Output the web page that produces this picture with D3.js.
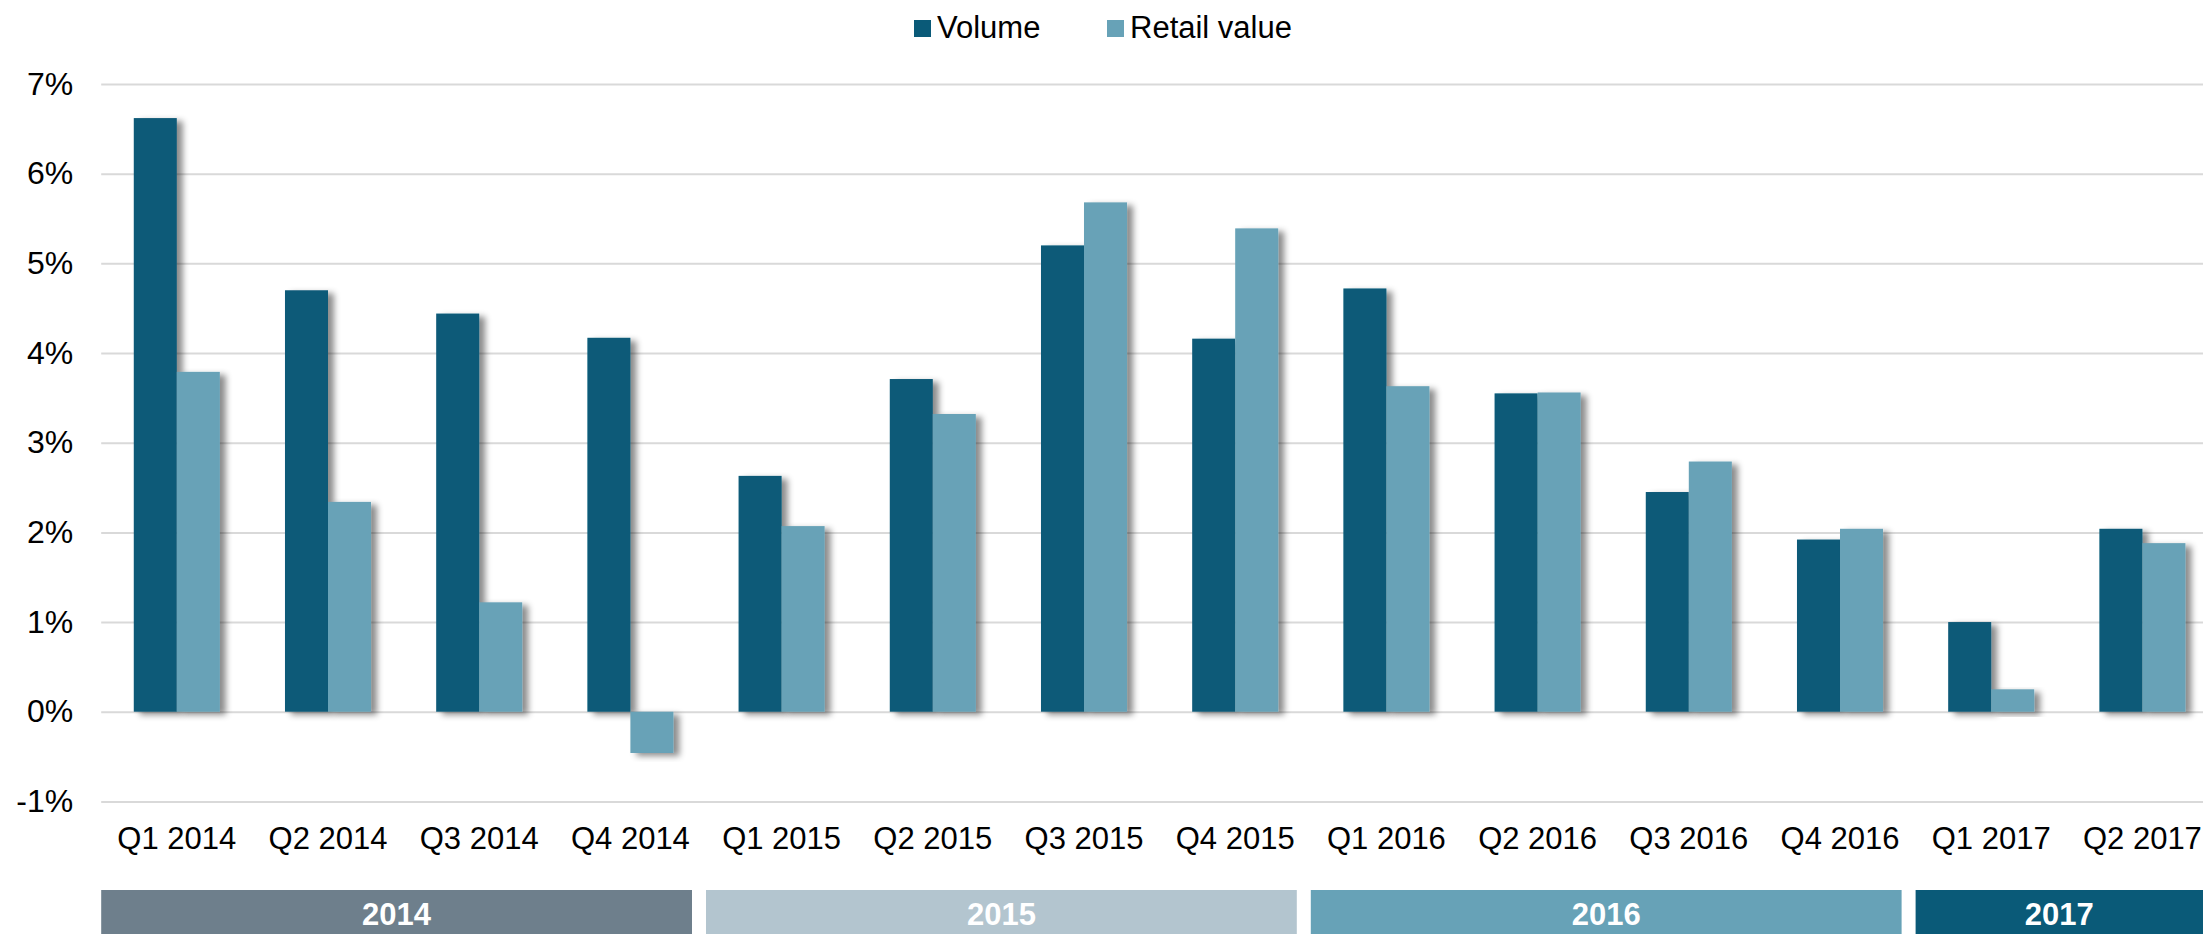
<!DOCTYPE html>
<html lang="en">
<head><meta charset="utf-8"/>
<style>
body { margin:0; background:#fff; }
svg { display:block; font-family:"Liberation Sans", Arial, sans-serif; }
.grid line { stroke:#d9d9d9; stroke-width:2px; }
</style>
</head>
<body>
<svg id="chart" width="2203" height="934"></svg>

<script src="https://cdn.jsdelivr.net/npm/d3@7"></script>
<script>

var quarters = ["Q1 2014","Q2 2014","Q3 2014","Q4 2014",
	"Q1 2015","Q2 2015","Q3 2015","Q4 2015",
	"Q1 2016","Q2 2016","Q3 2016","Q4 2016",
	"Q1 2017","Q2 2017"];

var volume = [6.62, 4.70, 4.44, 4.17, 2.63, 3.71, 5.20, 4.16, 4.72, 3.55, 2.45, 1.92, 1.00, 2.04];
var retail = [3.79, 2.34, 1.22, -0.46, 2.07, 3.32, 5.68, 5.39, 3.63, 3.56, 2.79, 2.04, 0.25, 1.88];

var seriesNames = ["Volume", "Retail value"];
var seriesColors = ["#0a5a78", "#67a2b7"];

var years = ["2014", "2015", "2016", "2017"];
var yearColors = ["#6e7f8c", "#b3c5cf", "#67a2b7", "#0a5a78"];

var yTicks = [-1, 0, 1, 2, 3, 4, 5, 6, 7];

var svg = d3.select("#chart"),
    W = +svg.attr("width");

var defs = svg.append("defs");
defs.append("filter").attr("id", "shadow")
	.attr("x", "-20%").attr("y", "-10%").attr("width", "160%").attr("height", "130%")
	.append("feDropShadow")
	.attr("dx", 6).attr("dy", 3).attr("stdDeviation", 3)
	.attr("flood-color", "#000").attr("flood-opacity", 0.45);

var x = d3.scaleBand().domain(quarters)
	.range([101.2, 101.2 + 14 * 151.2])
	.paddingInner(0.431).paddingOuter(0.2155);

var xs = d3.scaleBand().domain(seriesNames).range([0, x.bandwidth()]);

var y = d3.scaleLinear().domain([-1, 7]).range([801.4, 84]);

var z = d3.scaleOrdinal().domain(seriesNames).range(seriesColors);

// gridlines + y labels
var gy = svg.append("g").attr("class", "grid")
	.attr("transform", "translate(101.2,0)")
	.call(d3.axisLeft(y).tickValues(yTicks).tickFormat(d => d + "%")
		.tickSize(-(W - 101.2)).tickPadding(28));
gy.select(".domain").remove();
gy.selectAll("text").attr("font-size", 32).attr("fill", "#000")
	.attr("font-family", "Liberation Sans, Arial, sans-serif");

// bars
var data = quarters.map((q, i) => ({q: q, values: [
	{key: "Volume", value: volume[i]},
	{key: "Retail value", value: retail[i]}
]}));

var grp = svg.append("g").selectAll("g").data(data).enter().append("g")
	.attr("transform", d => "translate(" + x(d.q) + ",0)");

grp.selectAll("rect").data(d => d.values).enter().append("rect")
	.attr("x", d => xs(d.key))
	.attr("width", xs.bandwidth())
	.attr("y", d => y(Math.max(0, d.value)))
	.attr("height", d => Math.abs(y(d.value) - y(0)))
	.attr("fill", d => z(d.key))
	.attr("filter", "url(#shadow)");

// x labels
var gx = svg.append("g")
	.attr("transform", "translate(0,801.4)")
	.call(d3.axisBottom(x).tickSize(0).tickPadding(25.6));
gx.select(".domain").remove();
gx.selectAll("text").attr("font-size", 31).attr("fill", "#000")
	.attr("font-family", "Liberation Sans, Arial, sans-serif");

// year bands
var cellPad = (x.step() - x.bandwidth()) / 2;
var yearData = years.map(function(yr, i){
	var qs = quarters.filter(q => q.slice(-4) == yr);
	var x0 = x(qs[0]) - cellPad;
	var x1 = x(qs[qs.length - 1]) - cellPad + x.step() - 14;
	return {year: yr, x0: x0, x1: x1, color: yearColors[i]};
});

var band = svg.append("g").selectAll("g").data(yearData).enter().append("g");
band.append("rect")
	.attr("x", d => d.x0).attr("width", d => d.x1 - d.x0)
	.attr("y", 890).attr("height", 50)
	.attr("fill", d => d.color);
band.append("text")
	.attr("x", d => (d.x0 + Math.min(d.x1, W)) / 2)
	.attr("y", 925)
	.attr("text-anchor", "middle")
	.attr("font-size", 31).attr("font-weight", "bold").attr("fill", "#fff")
	.text(d => d.year);

// legend
var legendX = [914, 1107];
var lg = svg.append("g").selectAll("g").data(seriesNames).enter().append("g")
	.attr("transform", (d, i) => "translate(" + legendX[i] + ",0)");
lg.append("rect").attr("x", 0).attr("y", 20).attr("width", 17).attr("height", 17)
	.attr("fill", d => z(d));
lg.append("text").attr("x", 23).attr("y", 38)
	.attr("font-size", 31).attr("fill", "#000")
	.text(d => d);

</script>
</body>
</html>
